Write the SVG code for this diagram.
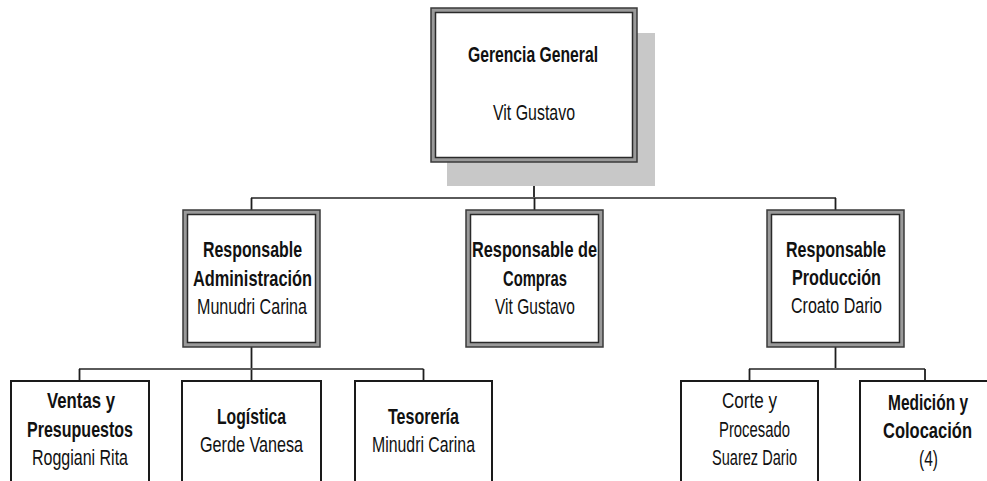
<svg xmlns="http://www.w3.org/2000/svg" width="987" height="481" viewBox="0 0 987 481">
  <style>
    text { font-family: "Liberation Sans", Arial, sans-serif; font-size: 21.5px; fill: #111; text-anchor: middle; }
    .b { font-weight: bold; }
    .frame { fill: #9a9a9a; stroke: #3a3a3a; stroke-width: 1.5; }
    .inner { fill: #ffffff; stroke: #2a2a2a; stroke-width: 1.5; }
    .box { fill: #ffffff; stroke: #1a1a1a; stroke-width: 2; }
    .shadow { fill: #c8c8c8; }
    .h { stroke: #5a5a5a; stroke-width: 2.2; fill: none; }
    .v { stroke: #1e1e1e; stroke-width: 1.8; fill: none; }
  </style>

  <!-- connectors -->
  <g id="connectors">
    <line class="v" x1="534" y1="162" x2="534" y2="198"/>
    <line class="h" x1="251" y1="198" x2="836" y2="198"/>
    <line class="v" x1="251.5" y1="198" x2="251.5" y2="210"/>
    <line class="v" x1="534.5" y1="198" x2="534.5" y2="210"/>
    <line class="v" x1="835.5" y1="198" x2="835.5" y2="210"/>

    <line class="v" x1="251.5" y1="347" x2="251.5" y2="381"/>
    <line class="h" x1="79" y1="369" x2="423.5" y2="369"/>
    <line class="v" x1="79.5" y1="369" x2="79.5" y2="381"/>
    <line class="v" x1="423.5" y1="369" x2="423.5" y2="381"/>

    <line class="v" x1="835.5" y1="347" x2="835.5" y2="369"/>
    <line class="h" x1="749" y1="369" x2="925" y2="369"/>
    <line class="v" x1="749.5" y1="369" x2="749.5" y2="381"/>
    <line class="v" x1="925" y1="369" x2="925" y2="381"/>
  </g>

  <!-- top level -->
  <g id="gerencia-general">
    <rect class="shadow" x="447" y="33" width="208" height="153"/>
    <rect class="frame" x="431" y="8" width="206" height="154"/>
    <rect class="inner" x="435.5" y="12.5" width="197" height="145"/>
    <text class="b" x="533" y="62" textLength="130" lengthAdjust="spacingAndGlyphs">Gerencia General</text>
    <text x="534" y="120" textLength="82" lengthAdjust="spacingAndGlyphs">Vit Gustavo</text>
  </g>

  <!-- second level -->
  <g id="resp-administracion">
    <rect class="frame" x="183" y="210" width="137" height="137"/>
    <rect class="inner" x="187.5" y="214.5" width="128" height="128"/>
    <text class="b" x="252.5" y="257" textLength="99" lengthAdjust="spacingAndGlyphs">Responsable</text>
    <text class="b" x="252.5" y="286" textLength="119" lengthAdjust="spacingAndGlyphs">Administración</text>
    <text x="252" y="314" textLength="110" lengthAdjust="spacingAndGlyphs">Munudri Carina</text>
  </g>

  <g id="resp-compras">
    <rect class="frame" x="466" y="210" width="137" height="137"/>
    <rect class="inner" x="470.5" y="214.5" width="128" height="128"/>
    <text class="b" x="534.5" y="257" textLength="125" lengthAdjust="spacingAndGlyphs">Responsable de</text>
    <text class="b" x="535" y="286" textLength="64" lengthAdjust="spacingAndGlyphs">Compras</text>
    <text x="535" y="314" textLength="80" lengthAdjust="spacingAndGlyphs">Vit Gustavo</text>
  </g>

  <g id="resp-produccion">
    <rect class="frame" x="767" y="210" width="137" height="137"/>
    <rect class="inner" x="771.5" y="214.5" width="128" height="128"/>
    <text class="b" x="836" y="257" textLength="100" lengthAdjust="spacingAndGlyphs">Responsable</text>
    <text class="b" x="836.5" y="285" textLength="89" lengthAdjust="spacingAndGlyphs">Producción</text>
    <text x="836.5" y="313" textLength="91" lengthAdjust="spacingAndGlyphs">Croato Dario</text>
  </g>

  <!-- third level -->
  <g id="ventas-presupuestos">
    <rect class="box" x="11" y="381" width="138" height="110"/>
    <text class="b" x="81" y="408" textLength="68" lengthAdjust="spacingAndGlyphs">Ventas y</text>
    <text class="b" x="80" y="437" textLength="106" lengthAdjust="spacingAndGlyphs">Presupuestos</text>
    <text x="80" y="465" textLength="96" lengthAdjust="spacingAndGlyphs">Roggiani Rita</text>
  </g>

  <g id="logistica">
    <rect class="box" x="182" y="381" width="139" height="110"/>
    <text class="b" x="251.5" y="424" textLength="69" lengthAdjust="spacingAndGlyphs">Logística</text>
    <text x="251.5" y="452" textLength="103" lengthAdjust="spacingAndGlyphs">Gerde Vanesa</text>
  </g>

  <g id="tesoreria">
    <rect class="box" x="355" y="381" width="137" height="110"/>
    <text class="b" x="423.5" y="424" textLength="71" lengthAdjust="spacingAndGlyphs">Tesorería</text>
    <text x="423.5" y="452" textLength="103" lengthAdjust="spacingAndGlyphs">Minudri Carina</text>
  </g>

  <g id="corte-procesado">
    <rect class="box" x="681" y="381" width="137" height="110"/>
    <text x="749.5" y="408" textLength="55" lengthAdjust="spacingAndGlyphs">Corte y</text>
    <text x="754.5" y="437" textLength="71" lengthAdjust="spacingAndGlyphs">Procesado</text>
    <text x="754.5" y="465" textLength="85" lengthAdjust="spacingAndGlyphs">Suarez Dario</text>
  </g>

  <g id="medicion-colocacion">
    <rect class="box" x="860" y="381" width="136" height="110"/>
    <text class="b" x="928" y="410" textLength="80" lengthAdjust="spacingAndGlyphs">Medición y</text>
    <text class="b" x="927.5" y="438" textLength="89" lengthAdjust="spacingAndGlyphs">Colocación</text>
    <text x="928.5" y="466" textLength="19" lengthAdjust="spacingAndGlyphs">(4)</text>
  </g>
</svg>
